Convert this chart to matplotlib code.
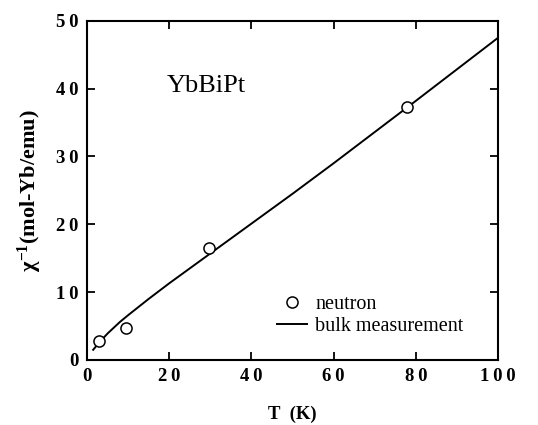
import matplotlib
matplotlib.use("Agg")
import matplotlib.pyplot as plt

plt.rcParams['font.family'] = ['Liberation Serif', 'DejaVu Serif']
plt.rcParams['mathtext.fontset'] = 'custom'
plt.rcParams['mathtext.rm'] = 'Liberation Serif:bold'
plt.rcParams['mathtext.bf'] = 'Liberation Serif:bold'
plt.rcParams['mathtext.it'] = 'Liberation Serif:bold'

# bulk measurement curve
bulk_T = [1.5, 3, 5, 8, 10, 15, 20, 30, 40, 50, 60, 70, 80, 90, 100]
bulk_chi = [1.5, 2.6, 3.9, 5.6, 6.6, 9.0, 11.3, 15.7, 20.1, 24.5, 29.0, 33.6, 38.2, 42.85, 47.5]

# neutron points
neut_T = [3.0, 9.5, 29.8, 77.8]
neut_chi = [2.8, 4.7, 16.5, 37.3]

xticks = [0, 20, 40, 60, 80, 100]
yticks = [0, 10, 20, 30, 40, 50]

fig = plt.figure(figsize=(5.38, 4.25), dpi=100)
ax = fig.add_axes([0.1617, 0.153, 0.764, 0.798])

ax.plot(bulk_T, bulk_chi, color='black', lw=1.4, label='bulk measurement')
ax.plot(neut_T, neut_chi, 'o', mfc='white', mec='black', ms=8, mew=1.1,
        label='neutron', linestyle='none')

ax.set_xlim(0, 100)
ax.set_ylim(0, 50)
ax.set_xticks(xticks)
ax.set_yticks(yticks)
sp = '\u2009'
ax.set_xticklabels([sp.join(str(v)) for v in xticks])
ax.set_yticklabels([sp.join(str(v)) for v in yticks])
ax.tick_params(direction='in', length=6, width=1.3, top=True, right=True,
               labelsize=13.5, pad=6)
for lab in ax.get_xticklabels() + ax.get_yticklabels():
    lab.set_fontweight('bold')
for s in ax.spines.values():
    s.set_linewidth(1.5)

ax.set_xlabel('T  (K)', fontsize=13.5, fontweight='bold', labelpad=15)
ax.set_ylabel(r'$\chi^{-1}$(mol-Yb/emu)', fontsize=16, fontweight='bold', labelpad=9)

ax.text(0.195, 0.79, 'YbBiPt', transform=ax.transAxes, fontsize=19, va='baseline')

h, l = ax.get_legend_handles_labels()
ax.legend([h[1], h[0]], [l[1], l[0]], loc='lower right',
          bbox_to_anchor=(0.95, 0.03), frameon=False, fontsize=14.5,
          handlelength=1.5, handletextpad=0.4, labelspacing=0.15, borderpad=0.2)

fig.savefig('out.png', dpi=100)
